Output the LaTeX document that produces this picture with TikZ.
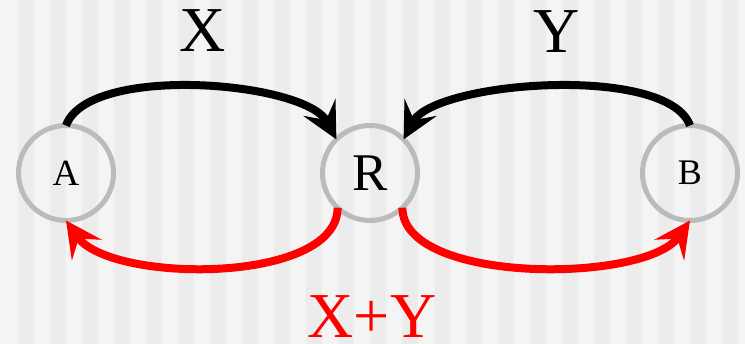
\documentclass[tikz,border=0pt]{standalone}
\usepackage{fontspec}
\setmainfont{Liberation Serif}
\usepackage{tikz}
\usetikzlibrary{arrows.meta,positioning}
\definecolor{ringgray}{HTML}{BBBBBB}
\definecolor{stripelight}{HTML}{F4F4F4}
\definecolor{stripedark}{HTML}{ECECEC}
\definecolor{sumred}{HTML}{FF0000}

\begin{document}
\begin{tikzpicture}[x=1pt, y=1pt,
  site/.style={circle, draw=ringgray, line width=5pt, minimum size=95pt,
               inner sep=0pt, outer sep=0pt, text=black},
  lbl/.style={inner sep=0pt, font=\fontsize{64}{70}\selectfont},
  ar/.style={line width=8pt, -{Stealth[length=36pt, width=36pt, inset=14pt]}}]
  % striped backdrop
  \fill[stripelight] (0,0) rectangle (745,344);
  \foreach \i in {0,...,22}
    \fill[stripedark] (18+32*\i,0) rectangle +(16,344);
  \useasboundingbox (0,0) rectangle (745,344);
  \node[site, font=\fontsize{37}{40}\selectfont] (A) at (66,171) {A};
  \node[site, font=\fontsize{53}{56}\selectfont, right=209pt of A] (R) {R};
  \node[site, font=\fontsize{36}{40}\selectfont, right=225pt of R] (B) {B};
  \node[lbl] (xlab) at (203,313) {X};
  \node[lbl] (ylab) at (557,312.5) {Y};
  \node[lbl, text=sumred] (sumlab) at (372,27) {X+Y};
  \draw[ar] (A.north) .. controls +(70:66) and +(118:66) .. (R.135);
  \draw[ar] (B.north) .. controls +(110:66) and +(62:66) .. (R.45);
  \draw[ar, sumred] (R.227) .. controls +(-90:77) and +(-55:77) .. (A.south);
  \draw[ar, sumred] (R.313) .. controls +(-90:77) and +(-125:77) .. (B.south);
\end{tikzpicture}
\end{document}
